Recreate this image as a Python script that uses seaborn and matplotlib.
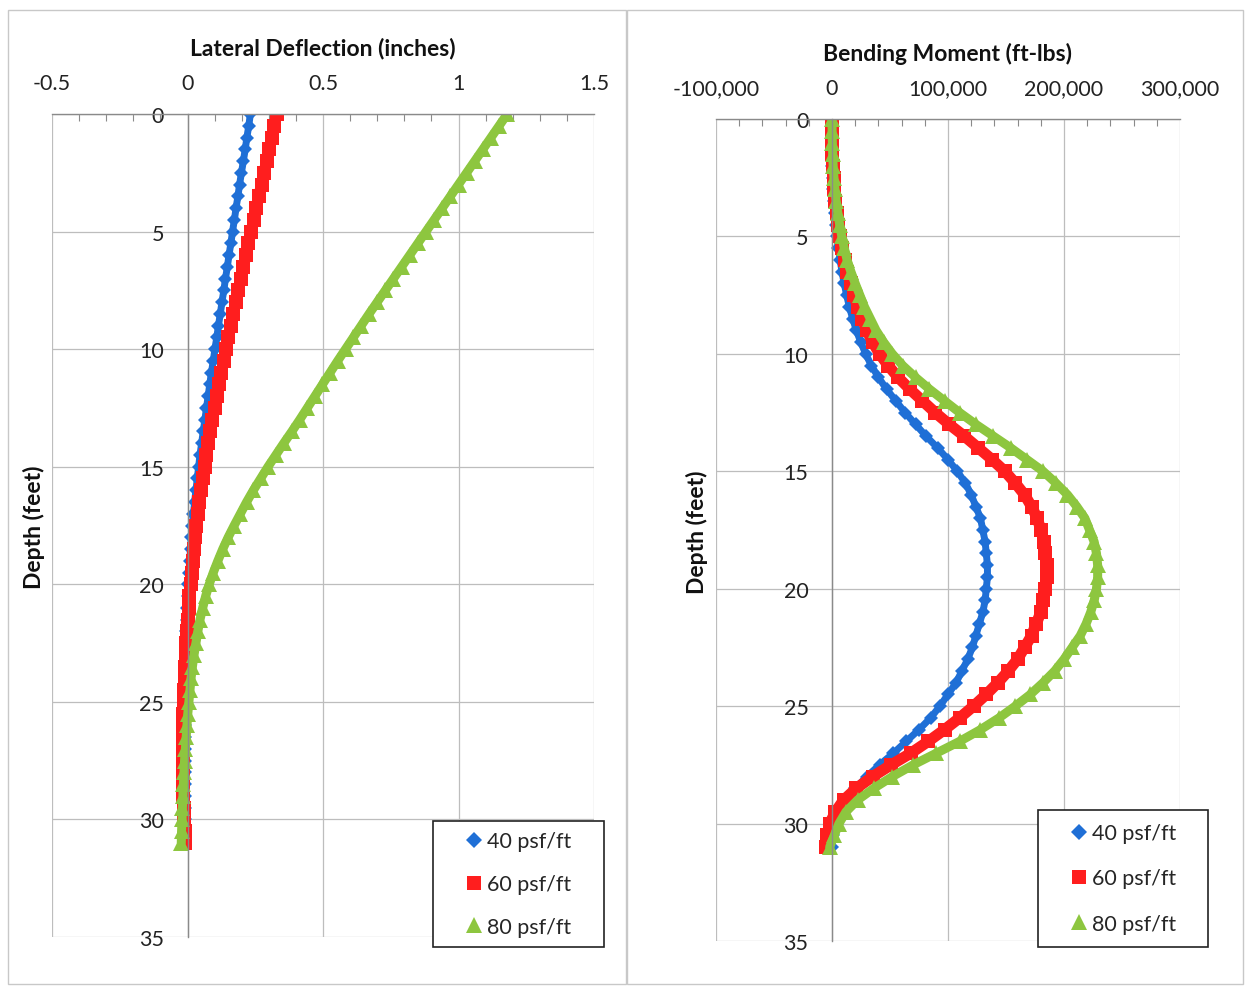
import numpy as np
import pandas as pd
import matplotlib
matplotlib.use("Agg")
import matplotlib.pyplot as plt
import seaborn as sns
from matplotlib.ticker import MultipleLocator, FuncFormatter
from matplotlib.lines import Line2D
from matplotlib.patches import Rectangle

# ==========================
# Data (every 0.5 ft)
# ==========================
depth = np.arange(0, 31.5, 0.5)
loads = ["40 psf/ft", "60 psf/ft", "80 psf/ft"]

defl_40 = [.232, .226, .219, .213, .206, .199, .192, .186, .179, .173,
           .166, .160, .153, .147, .140, .134, .127, .121, .114, .108,
           .101, .095, .088, .082, .076, .070, .064, .058, .052, .046,
           .041, .036, .031, .026, .022, .018, .014, .011, .008, .005,
           .003, .001, -.001, -.003, -.004, -.006, -.007, -.008, -.009, -.010,
           -.010, -.011, -.011, -.011, -.011, -.011, -.011, -.011, -.010, -.010,
           -.009, -.009, -.008]
defl_60 = [.330, .320, .311, .301, .292, .282, .273, .263, .254, .244,
           .235, .225, .216, .206, .197, .187, .178, .169, .160, .151,
           .142, .133, .125, .116, .108, .100, .092, .084, .077, .070,
           .063, .056, .050, .044, .038, .033, .028, .023, .019, .015,
           .011, .007, .004, .001, -.002, -.005, -.007, -.009, -.011, -.013,
           -.014, -.015, -.016, -.017, -.017, -.017, -.017, -.016, -.015, -.014,
           -.012, -.011, -.009]
defl_80 = [1.180, 1.150, 1.120, 1.090, 1.060, 1.030, 1.000, .970, .940, .910,
           .880, .850, .820, .790, .760, .730, .700, .670, .641, .612,
           .583, .554, .526, .498, .470, .442, .414, .385, .355, .326,
           .297, .270, .243, .218, .195, .172, .150, .130, .112, .095,
           .080, .067, .056, .046, .038, .031, .024, .018, .013, .009,
           .005, .001, -.002, -.005, -.008, -.011, -.013, -.015, -.017, -.019,
           -.020, -.022, -.023]

mom_40 = [0, 0, 100, 200, 400, 700, 1100, 1600, 2300, 3200,
          4200, 5500, 7000, 8600, 10500, 12600, 15000, 17800, 21000, 24800,
          29000, 34000, 40000, 47000, 55000, 63000, 72000, 81000, 91000, 100000,
          108000, 115000, 120000, 124000, 128000, 130000, 132000, 133000, 134000, 134000,
          133000, 132000, 130000, 127000, 124000, 121000, 117000, 112000, 107000, 100000,
          93000, 85000, 75000, 64000, 53000, 41000, 30000, 20000, 12000, 6000,
          2000, 500, 0]
mom_60 = [0, 0, 200, 400, 800, 1300, 2000, 2900, 4000, 5400,
          7000, 8900, 11000, 13300, 16000, 18800, 22000, 25800, 30000, 35000,
          41000, 48500, 57000, 67000, 78000, 89000, 101000, 114000, 126000, 138000,
          149000, 158000, 166000, 172000, 177000, 180000, 183000, 184000, 185000, 185000,
          184000, 182000, 180000, 176000, 172000, 166000, 160000, 152000, 143000, 133000,
          122000, 110000, 97000, 83000, 68000, 51000, 35000, 21000, 10000, 3000,
          -2000, -4000, -5000]
mom_80 = [0, 100, 300, 600, 1000, 1700, 2500, 3600, 5000, 6600,
          8500, 10600, 13000, 16300, 20000, 24000, 28000, 33000, 38000, 44500,
          52000, 61000, 72000, 84000, 97000, 110000, 124000, 139000, 154000, 168000,
          182000, 193000, 203000, 211000, 218000, 222000, 226000, 228000, 229000, 229000,
          228000, 226000, 223000, 219000, 214000, 207000, 200000, 192000, 182000, 171000,
          158000, 144000, 128000, 110000, 90000, 70000, 52000, 36000, 22000, 12000,
          6000, 2000, -2000]

df = pd.DataFrame({
    "depth": np.tile(depth, 3),
    "load": np.repeat(loads, len(depth)),
    "deflection": defl_40 + defl_60 + defl_80,
    "moment": mom_40 + mom_60 + mom_80,
})

colors = {"40 psf/ft": "#1F6FD6", "60 psf/ft": "#FF1E1E", "80 psf/ft": "#8DC63F"}
markers = {"40 psf/ft": "D", "60 psf/ft": "s", "80 psf/ft": "^"}
msizes = {"40 psf/ft": 7.5, "60 psf/ft": 10, "80 psf/ft": 11}
lwidths = {"40 psf/ft": 5, "60 psf/ft": 8, "80 psf/ft": 6.5}

# ==========================
# Style
# ==========================
sns.set_theme(style="white")
plt.rcParams["font.family"] = ["Lato", "DejaVu Sans"]
plt.rcParams["axes.unicode_minus"] = False

fig = plt.figure(figsize=(12.45, 9.87), dpi=100)
ax1 = fig.add_axes([0.0418, 0.0496, 0.4353, 0.8339])
ax2 = fig.add_axes([0.5751, 0.0456, 0.3727, 0.8328])

# chart frames
fig.add_artist(Rectangle((0.0065, 0.002), 0.496, 0.987, transform=fig.transFigure,
                         fill=False, edgecolor="#C8C8C8", lw=1))
fig.add_artist(Rectangle((0.5035, 0.002), 0.4945, 0.987, transform=fig.transFigure,
                         fill=False, edgecolor="#C8C8C8", lw=1))


def draw(ax, col):
    for ld in loads:
        sub = df[df["load"] == ld]
        sns.lineplot(data=sub, x=col, y="depth", ax=ax, sort=False, orient="y",
                     estimator=None, color=colors[ld], lw=lwidths[ld],
                     marker=markers[ld], markersize=msizes[ld],
                     markeredgewidth=0, legend=False)


def style(ax, xlim, xmajor, xminor, box, labelspacing):
    ax.set_xlim(*xlim)
    ax.set_ylim(35, 0)
    ax.xaxis.tick_top()
    ax.xaxis.set_label_position("top")
    ax.xaxis.set_major_locator(MultipleLocator(xmajor))
    ax.xaxis.set_minor_locator(MultipleLocator(xminor))
    ax.yaxis.set_major_locator(MultipleLocator(5))
    ax.yaxis.set_minor_locator(MultipleLocator(1))
    ax.grid(True, which="major", color="#BDBDBD", lw=0.9)
    for s in ["bottom", "right"]:
        ax.spines[s].set_visible(False)
    ax.spines["left"].set_position(("data", 0))
    ax.spines["left"].set_color("#8A8A8A")
    ax.spines["top"].set_color("#8A8A8A")
    ax.spines["left"].set_linewidth(1)
    ax.spines["top"].set_linewidth(1)
    ax.tick_params(which="major", length=0, labelsize=15.5, colors="#222222")
    ax.tick_params(axis="x", which="major", pad=15)
    ax.tick_params(axis="y", which="major", pad=17)
    ax.tick_params(which="minor", direction="in", length=5, width=0.8, color="#8A8A8A")
    ax.set_xlabel("")
    ax.set_ylabel("")

    # legend box (Excel style, sticks out of the plot area)
    x0, y0, x1, y1 = box
    ax.add_patch(Rectangle((x0, y0), x1 - x0, y1 - y0, transform=ax.transAxes,
                           facecolor="white", edgecolor="#222222", lw=1.2,
                           clip_on=False, zorder=6))
    handles = [Line2D([], [], ls="none", marker=markers[ld], color=colors[ld],
                      markersize=msizes[ld] + 0.5, markeredgewidth=0) for ld in loads]
    leg = ax.legend(handles, loads, loc="center",
                    bbox_to_anchor=((x0 + x1) / 2, (y0 + y1) / 2),
                    frameon=False, fontsize=15.5, borderpad=0,
                    labelspacing=labelspacing, handlelength=0.8,
                    handletextpad=0.2, numpoints=1, borderaxespad=0)
    leg.set_zorder(7)


draw(ax1, "deflection")
draw(ax2, "moment")

style(ax1, (-0.5, 1.5), 0.5, 0.1, (0.703, -0.0122, 1.0185, 0.141), 1.05)
style(ax2, (-100000, 300000), 100000, 20000, (0.694, -0.0073, 1.0603, 0.1594), 1.18)

ax1.xaxis.set_major_formatter(FuncFormatter(lambda v, p: f"{v:g}"))
ax2.xaxis.set_major_formatter(FuncFormatter(lambda v, p: f"{v:,.0f}"))
ax1.yaxis.set_major_formatter(FuncFormatter(lambda v, p: f"{v:g}"))
ax2.yaxis.set_major_formatter(FuncFormatter(lambda v, p: f"{v:g}"))

# titles and axis labels (Excel-style placement)
fig.text(0.2594, 0.951, "Lateral Deflection (inches)", ha="center", va="center",
         fontsize=16.5, fontweight="bold", color="#111111")
fig.text(0.7614, 0.945, "Bending Moment (ft-lbs)", ha="center", va="center",
         fontsize=16.5, fontweight="bold", color="#111111")
fig.text(0.027, 0.466, "Depth (feet)", ha="center", va="center", rotation=90,
         fontsize=16.5, fontweight="bold", color="#111111")
fig.text(0.560, 0.461, "Depth (feet)", ha="center", va="center", rotation=90,
         fontsize=16.5, fontweight="bold", color="#111111")

plt.savefig("out.png", dpi=100)
